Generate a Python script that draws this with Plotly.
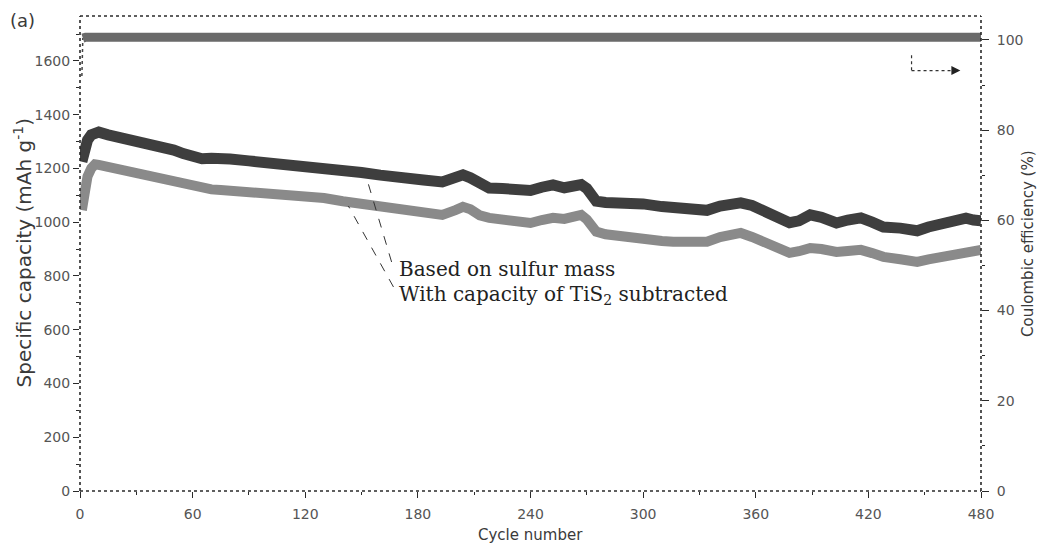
import plotly.graph_objects as go

# ---------------- data ----------------
cycles_cap = [1, 2, 4, 6, 8, 10, 15, 20, 25, 30, 35, 40, 45, 50, 55, 60, 65, 70, 75, 80,
              90, 100, 110, 120, 130, 140, 150, 160, 166, 175, 183, 193, 200, 204, 208, 213,
              218, 225, 232, 240, 246, 252, 258, 263, 267, 270, 275, 280, 289, 300, 310, 316,
              325, 334, 341, 345, 352, 358, 366, 372, 378, 383, 389, 395, 403, 409, 416, 422,
              428, 437, 446, 452, 458, 465, 472, 476, 480]

cap_sulfur = [1225, 1265, 1305, 1325, 1335, 1335, 1325, 1318, 1310, 1303, 1297, 1290, 1280,
              1268, 1255, 1240, 1236, 1238, 1240, 1235, 1228, 1222, 1215, 1207, 1200, 1195,
              1185, 1175, 1168, 1162, 1157, 1150, 1165, 1176, 1165, 1140, 1127, 1125, 1122,
              1118, 1130, 1139, 1128, 1135, 1140, 1125, 1078, 1073, 1072, 1068, 1058, 1052,
              1046, 1044, 1060, 1064, 1072, 1062, 1036, 1018, 998, 1005, 1027, 1018, 997,
              1008, 1016, 1000, 982, 978, 968, 982, 995, 1000, 1015, 1008, 1005]

cap_tis2_sub = [1045, 1110, 1170, 1200, 1215, 1213, 1205, 1198, 1190, 1185, 1180, 1170, 1160,
                1150, 1140, 1135, 1128, 1122, 1120, 1118, 1112, 1110, 1105, 1097, 1090, 1078,
                1068, 1058, 1052, 1045, 1038, 1027, 1045, 1057, 1048, 1025, 1016, 1010, 1003,
                997, 1008, 1016, 1012, 1020, 1027, 1010, 965, 955, 945, 937, 930, 927, 926,
                927, 945, 950, 960, 945, 923, 905, 886, 892, 904, 900, 889, 893, 897, 885,
                871, 862, 852, 862, 871, 880, 889, 895, 897]

cycles_ce = [1.5, 3, 40, 80, 120, 160, 200, 240, 280, 320, 360, 400, 440, 480]
coulombic_eff = [100.4, 100.6, 100.6, 100.5, 100.6, 100.6, 100.5, 100.6, 100.6,
                 100.5, 100.6, 100.6, 100.5, 100.6]
cycles_ce_first = [1, 1.5]
coulombic_eff_first = [92.0, 100.4]

x_ticks = [0, 60, 120, 180, 240, 300, 360, 420, 480]
y_left_ticks = [0, 200, 400, 600, 800, 1000, 1200, 1400, 1600]
y_right_ticks = [0, 20, 40, 60, 80, 100]

label_sulfur = "Based on sulfur mass"
label_sub = "With capacity of TiS<sub>2</sub> subtracted"

# ---------------- figure ----------------
AX = "#2a2a2a"
TXT = "#3a3a3a"
FONT = "DejaVu Sans"

fig = go.Figure()

fig.add_trace(go.Scatter(x=cycles_ce_first, y=coulombic_eff_first, yaxis="y2", mode="lines",
                         line=dict(color="#444444", width=1.5, dash="dot"), name="CE0"))
fig.add_trace(go.Scatter(x=cycles_ce, y=coulombic_eff, yaxis="y2", mode="lines",
                         line=dict(color="#6a6a6a", width=9), name="CE"))
fig.add_trace(go.Scatter(x=cycles_cap, y=cap_tis2_sub, mode="lines",
                         line=dict(color="#8a8a8a", width=10), name="sub"))
fig.add_trace(go.Scatter(x=cycles_cap, y=cap_sulfur, mode="lines",
                         line=dict(color="#3e3e3e", width=11), name="sulfur"))

tickfont = dict(family=FONT, size=14, color="#555555")

fig.update_layout(
    width=1037, height=545,
    margin=dict(l=80, r=56, t=16, b=54, autoexpand=False),
    paper_bgcolor="white", plot_bgcolor="white",
    showlegend=False,
    xaxis=dict(range=[0, 480], tickvals=x_ticks, ticks="outside", ticklen=6, tickwidth=1,
               tickcolor=AX, showline=False, showgrid=False, zeroline=False,
               tickfont=tickfont, ticklabelstandoff=4,
               minor=dict(dtick=30, ticks="outside", ticklen=3, tickcolor=AX, showgrid=False)),
    yaxis=dict(range=[0, 1767], tickvals=y_left_ticks, ticks="outside", ticklen=6, tickwidth=1,
               tickcolor=AX, showline=False, showgrid=False, zeroline=False,
               tickfont=tickfont,
               minor=dict(dtick=100, ticks="outside", ticklen=3, tickcolor=AX, showgrid=False)),
    yaxis2=dict(range=[0, 105.3], tickvals=y_right_ticks, overlaying="y", side="right",
                ticks="outside", ticklen=7, tickwidth=1, tickcolor=AX, showline=False,
                showgrid=False, zeroline=False, tickfont=tickfont, ticklabelstandoff=5,
                minor=dict(dtick=10, ticks="outside", ticklen=3, tickcolor=AX, showgrid=False)),
)

# dotted frame
frame = dict(color=AX, width=1.6, dash="dot")
for x0, y0, x1, y1 in [(0, 0, 1, 0), (0, 1, 1, 1), (0, 0, 0, 1), (1, 0, 1, 1)]:
    fig.add_shape(type="line", xref="paper", yref="paper", x0=x0, y0=y0, x1=x1, y1=y1,
                  line=frame, layer="above")

# leader lines for the two labels
lead = dict(color="#333333", width=1, dash="dash")
fig.add_shape(type="line", xref="x", yref="y", x0=166, y0=852, x1=152.5, y1=1168, line=lead)
fig.add_shape(type="line", xref="x", yref="y", x0=167, y0=759, x1=143, y1=1060, line=lead)

# CE arrow marker (top right)
arr = dict(color="#333333", width=1.2, dash="dot")
fig.add_shape(type="line", xref="x", yref="y2", x0=443, y0=96.6, x1=443, y1=93.2, line=arr)
fig.add_shape(type="line", xref="x", yref="y2", x0=443, y0=93.2, x1=466, y1=93.2, line=arr)
fig.add_annotation(x=469, y=93.2, xref="x", yref="y2", ax=-7, ay=0, text="",
                   showarrow=True, arrowhead=2, arrowsize=1.2, arrowwidth=1.5,
                   arrowcolor="#222222")

# series labels
serif = dict(family="DejaVu Serif", size=20, color="#222222")
fig.add_annotation(x=169.5, y=826, xref="x", yref="y", text=label_sulfur, showarrow=False,
                   xanchor="left", yanchor="middle", font=serif, borderpad=0)
fig.add_annotation(x=169.5, y=729, xref="x", yref="y", text=label_sub, showarrow=False,
                   xanchor="left", yanchor="middle", font=serif, borderpad=0)

# axis titles and panel label
fig.add_annotation(x=0, y=0.5, xref="paper", yref="paper", xshift=-58, xanchor="center",
                   text="Specific capacity (mAh g<sup>-1</sup>)", textangle=-90,
                   showarrow=False, font=dict(family=FONT, size=20, color=TXT))
fig.add_annotation(x=1, y=0.52, xref="paper", yref="paper", xshift=47, xanchor="center",
                   text="Coulombic efficiency (%)", textangle=-90,
                   showarrow=False, font=dict(family=FONT, size=15, color=TXT))
fig.add_annotation(x=0.5, y=0, xref="paper", yref="paper", yshift=-44, xanchor="center",
                   text="Cycle number", showarrow=False, yanchor="middle",
                   font=dict(family=FONT, size=15, color=TXT))
fig.add_annotation(x=0, y=1, xref="paper", yref="paper", xshift=-58, yshift=-4,
                   xanchor="center", text="(a)", showarrow=False, yanchor="middle",
                   font=dict(family=FONT, size=18, color=TXT))

fig.write_html("out.html")
